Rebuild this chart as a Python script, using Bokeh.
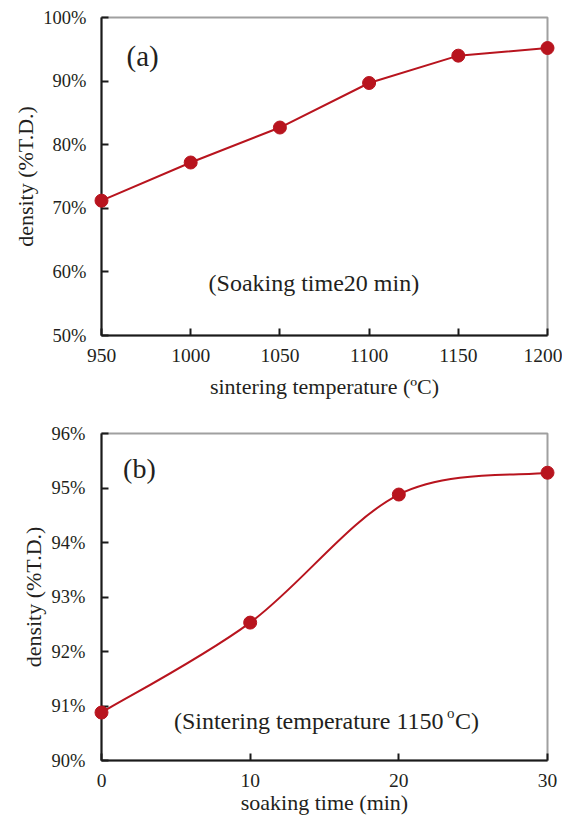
from bokeh.plotting import figure
from bokeh.layouts import column
from bokeh.models import Range1d, FixedTicker, PrintfTickFormatter, Label, Title
from bokeh.embed import file_html
from bokeh.resources import INLINE

# ---- data ----
temp = [950, 1000, 1050, 1100, 1150, 1200]
dens_a = [71.2, 77.2, 82.7, 89.7, 94.0, 95.2]
time_b = [0, 10, 20, 30]
dens_b = [90.88, 92.53, 94.88, 95.28]
yticks_a = [50, 60, 70, 80, 90, 100]
yticks_b = [90, 91, 92, 93, 94, 95, 96]
xticks_a = [950, 1000, 1050, 1100, 1150, 1200]
xticks_b = [0, 10, 20, 30]

RED = "#b8141e"
FONT = "Liberation Serif"
TXT = "#231f20"


def style(p, yticks, xticks):
    p.grid.visible = False
    p.outline_line_color = "#a0a0a0"
    p.outline_line_width = 2
    for ax in (p.xaxis[0], p.yaxis[0]):
        ax.axis_line_color = "#1a1a1a"
        ax.axis_line_width = 2
        ax.major_tick_line_color = "#1a1a1a"
        ax.major_tick_line_width = 2
        ax.major_tick_in = 7
        ax.major_tick_out = 0
        ax.minor_tick_line_color = None
        ax.major_label_text_font = FONT
        ax.major_label_text_color = TXT
        ax.axis_label_text_font = FONT
        ax.axis_label_text_font_size = "22px"
        ax.axis_label_text_font_style = "normal"
        ax.axis_label_text_color = TXT
    p.yaxis[0].major_label_text_font_size = "18.5px"
    p.xaxis[0].major_label_text_font_size = "19.5px"
    p.yaxis[0].ticker = FixedTicker(ticks=yticks)
    p.xaxis[0].ticker = FixedTicker(ticks=xticks)
    p.yaxis[0].formatter = PrintfTickFormatter(format="%d%%")
    p.xaxis[0].major_label_standoff = 13


def ytitle(p, offset):
    p.add_layout(Title(text="density (%T.D.)", align="center", offset=offset, standoff=6,
                       text_font=FONT, text_font_size="22px", text_font_style="normal",
                       text_color=TXT), "left")


# ---- panel (a) ----
pa = figure(width=562, height=403, output_backend="svg", toolbar_location=None,
            x_range=Range1d(950, 1200), y_range=Range1d(50, 100),
            min_border_left=101, min_border_right=15, min_border_top=17, min_border_bottom=68)
style(pa, yticks_a, xticks_a)
pa.xaxis.axis_label = "sintering temperature (ºC)"
pa.xaxis[0].axis_label_standoff = 9
pa.yaxis[0].major_label_standoff = 15
ytitle(pa, -22)
pa.line(temp, dens_a, line_color=RED, line_width=2, level="overlay")
pa.scatter(temp, dens_a, size=13, fill_color=RED, line_color=RED, level="overlay")
pa.add_layout(Label(x=964, y=94.0, text="(a)", text_font=FONT, text_font_size="29px",
                    text_baseline="middle", text_color=TXT))
pa.add_layout(Label(x=1010, y=58.3, text="(Soaking time20 min)", text_font=FONT,
                    text_font_size="24px", text_baseline="middle", text_color=TXT))

# ---- panel (b) ----
pb = figure(width=562, height=416, output_backend="svg", toolbar_location=None,
            x_range=Range1d(0, 30), y_range=Range1d(90, 96),
            min_border_left=99, min_border_right=13, min_border_top=30, min_border_bottom=59)
style(pb, yticks_b, xticks_b)
pb.xaxis.axis_label = "soaking time (min)"
pb.xaxis[0].axis_label_standoff = 0
pb.yaxis[0].major_label_standoff = 16
ytitle(pb, 6)

# smoothed line (Excel-style Bezier) with control points derived from the data
n = len(time_b)
x0s, y0s, x1s, y1s, cx0, cy0, cx1, cy1 = [], [], [], [], [], [], [], []
for i in range(n - 1):
    xp, yp = time_b[max(i - 1, 0)], dens_b[max(i - 1, 0)]
    xa, ya = time_b[i], dens_b[i]
    xb, yb = time_b[i + 1], dens_b[i + 1]
    xn, yn = time_b[min(i + 2, n - 1)], dens_b[min(i + 2, n - 1)]
    x0s.append(xa); y0s.append(ya); x1s.append(xb); y1s.append(yb)
    cx0.append(xa + (xb - xp) / 6); cy0.append(ya + (yb - yp) / 6)
    cx1.append(xb - (xn - xa) / 6); cy1.append(yb - (yn - ya) / 6)
pb.bezier(x0=x0s, y0=y0s, x1=x1s, y1=y1s, cx0=cx0, cy0=cy0, cx1=cx1, cy1=cy1,
          line_color=RED, line_width=2, level="overlay")
pb.scatter(time_b, dens_b, size=13, fill_color=RED, line_color=RED, level="overlay")
pb.add_layout(Label(x=1.45, y=95.36, text="(b)", text_font=FONT, text_font_size="28px",
                    text_baseline="middle", text_color=TXT))
# annotation with superscript "o"
pb.add_layout(Label(x=4.87, y=90.72, text="(Sintering temperature  1150", text_font=FONT,
                    text_font_size="24px", text_baseline="middle", text_color=TXT))
pb.add_layout(Label(x=4.87, y=90.72, x_offset=273, y_offset=8, text="o", text_font=FONT,
                    text_font_size="15px", text_baseline="middle", text_color=TXT))
pb.add_layout(Label(x=4.87, y=90.72, x_offset=281, text="C)", text_font=FONT,
                    text_font_size="24px", text_baseline="middle", text_color=TXT))

layout = column(pa, pb, spacing=0)
open("out.html", "w").write(file_html(layout, INLINE))
